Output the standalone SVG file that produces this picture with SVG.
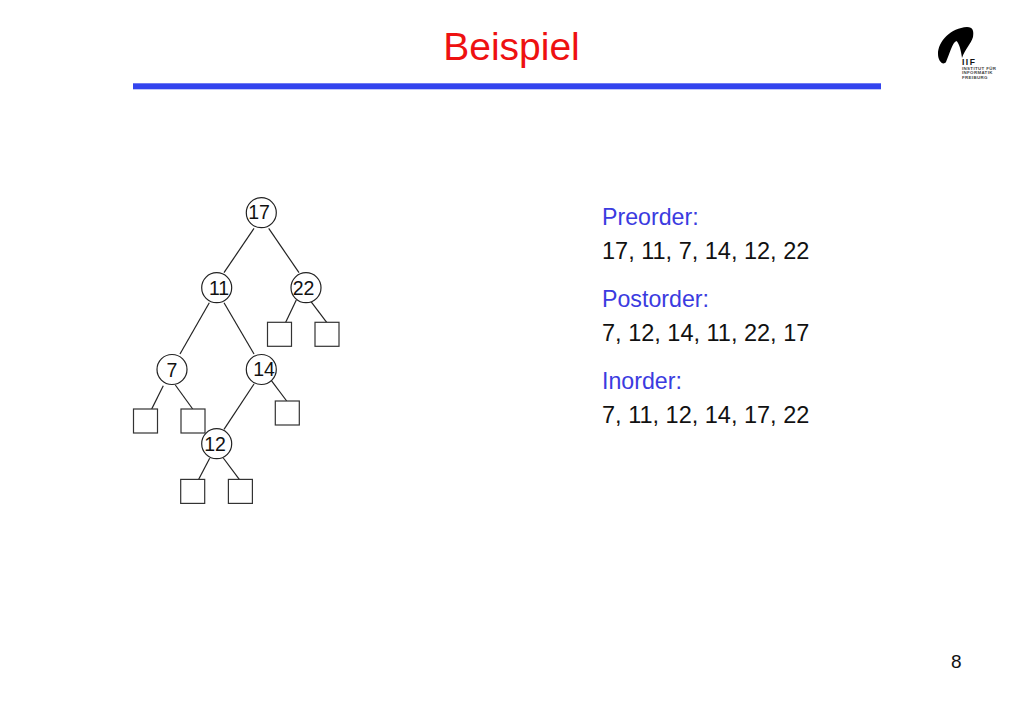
<svg xmlns="http://www.w3.org/2000/svg" width="1023" height="708" viewBox="0 0 1023 708">
<style>
text{font-family:"Liberation Sans",Arial,sans-serif}
.n circle{fill:#fff;stroke:#222;stroke-width:1.2}
.n text{font-size:19.5px;text-anchor:middle;fill:#111}
.leaf rect{fill:#fff;stroke:#333;stroke-width:1.2}
#edges line{stroke:#222;stroke-width:1.2}
.h{font-size:23.2px;fill:#3b3be0}
.b{font-size:23.5px;fill:#111}
.lg{font-size:4.4px;font-weight:bold;fill:#444;letter-spacing:.35px}
</style>
<rect width="1023" height="708" fill="#fff"/>
<text id="title" x="511.5" y="59.5" font-size="39" fill="#ee1111" text-anchor="middle">Beispiel</text>
<rect id="rule" x="133" y="83.3" width="748" height="6" fill="#3344ee"/>
<g id="logo">
<path d="M938 54C938 41 951 28 967 27C973 27 974 31 973 37C971 44 965 49 962 58C961 50 959 43 956.500 41C952 43 950 53 946 62C943 66 938 61 938 54Z" fill="#000"/>
<text x="962" y="64.500" font-size="8.500" font-weight="bold" fill="#111" letter-spacing="1.500">IIF</text>
<text class="lg" x="962" y="69.500">INSTITUT FÜR</text>
<text class="lg" x="962" y="74">INFORMATIK</text>
<text class="lg" x="962" y="78.500">FREIBURG</text>
</g>
<g id="edges">
<line x1="254" y1="228.3" x2="224" y2="272.7"/>
<line x1="268.7" y1="228.3" x2="299" y2="272.7"/>
<line x1="209.3" y1="302.7" x2="180" y2="354"/>
<line x1="224" y1="302.7" x2="254" y2="354"/>
<line x1="296.3" y1="300" x2="285.7" y2="322.3"/>
<line x1="309.3" y1="299.3" x2="326.7" y2="322.3"/>
<line x1="163.3" y1="385.7" x2="151.7" y2="409"/>
<line x1="175.3" y1="385" x2="192.7" y2="409"/>
<line x1="254" y1="384" x2="224" y2="429.3"/>
<line x1="269.7" y1="378.3" x2="286.7" y2="401"/>
<line x1="209.7" y1="458.3" x2="198.7" y2="479.3"/>
<line x1="223.3" y1="458" x2="239.3" y2="479.3"/>
</g>
<g id="leaf-22a" class="leaf"><rect x="267.5" y="322.3" width="24" height="24"/></g>
<g id="leaf-22b" class="leaf"><rect x="315" y="322.3" width="24" height="24"/></g>
<g id="leaf-7a" class="leaf"><rect x="133.500" y="409" width="24" height="24"/></g>
<g id="leaf-7b" class="leaf"><rect x="181" y="409" width="24" height="24"/></g>
<g id="leaf-14" class="leaf"><rect x="275.3" y="401" width="24" height="24"/></g>
<g id="leaf-12a" class="leaf"><rect x="180.7" y="479.4" width="24" height="24"/></g>
<g id="leaf-12b" class="leaf"><rect x="228.4" y="479.4" width="24" height="24"/></g>
<g id="n17" class="n"><circle cx="261.3" cy="212.7" r="15"/><text x="259" y="219">17</text></g>
<g id="n11" class="n"><circle cx="216.7" cy="287.7" r="15"/><text x="219" y="295">11</text></g>
<g id="n22" class="n"><circle cx="306" cy="287.7" r="15"/><text x="303.500" y="295">22</text></g>
<g id="n7" class="n"><circle cx="172" cy="369.500" r="15"/><text x="172" y="377">7</text></g>
<g id="n14" class="n"><circle cx="261.3" cy="369.500" r="15"/><text x="264" y="375.500">14</text></g>
<g id="n12" class="n"><circle cx="216.7" cy="443.7" r="15"/><text x="215" y="450.500">12</text></g>
<g id="lists">
<text class="h" x="602" y="225">Preorder:</text>
<text class="b" x="602" y="258.7">17, 11, 7, 14, 12, 22</text>
<text class="h" x="602" y="307">Postorder:</text>
<text class="b" x="602" y="340.7">7, 12, 14, 11, 22, 17</text>
<text class="h" x="602" y="389">Inorder:</text>
<text class="b" x="602" y="422.7">7, 11, 12, 14, 17, 22</text>
</g>
<text id="page" x="951" y="668" font-size="19" fill="#111">8</text>
</svg>
